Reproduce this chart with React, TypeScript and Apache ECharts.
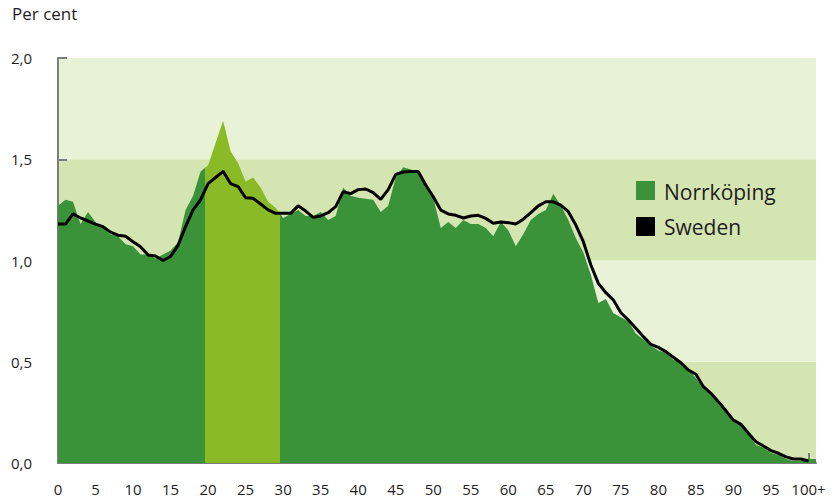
import React, { useEffect, useRef } from "react";
import * as echarts from "echarts";

const norrkoping: number[] = [
  1.27, 1.30, 1.29, 1.18, 1.24, 1.19, 1.16, 1.13, 1.12, 1.08,
  1.07, 1.03, 1.03, 1.01, 1.03, 1.05, 1.09, 1.25, 1.32, 1.44,
  1.47, 1.58, 1.69, 1.54, 1.48, 1.39, 1.41, 1.36, 1.29, 1.26,
  1.21, 1.23, 1.25, 1.22, 1.22, 1.24, 1.20, 1.22, 1.36, 1.32,
  1.31, 1.305, 1.30, 1.24, 1.27, 1.41, 1.46, 1.45, 1.44, 1.37,
  1.31, 1.16, 1.19, 1.16, 1.20, 1.18, 1.18, 1.16, 1.12, 1.19,
  1.15, 1.07, 1.13, 1.20, 1.23, 1.25, 1.33, 1.27, 1.20, 1.11,
  1.04, 0.93, 0.79, 0.81, 0.74, 0.72, 0.70, 0.64, 0.61, 0.58,
  0.555, 0.545, 0.51, 0.50, 0.46, 0.42, 0.37, 0.335, 0.295, 0.25,
  0.205, 0.19, 0.14, 0.09, 0.075, 0.05, 0.04, 0.02, 0.01, 0.01,
  0.02, 0.02,
];

const sweden: number[] = [
  1.18, 1.18, 1.23, 1.21, 1.195, 1.18, 1.167, 1.14, 1.125, 1.12,
  1.093, 1.068, 1.027, 1.022, 1.0, 1.02, 1.075, 1.167, 1.25, 1.30,
  1.38, 1.41, 1.44, 1.38, 1.365, 1.31, 1.307, 1.279, 1.25, 1.233,
  1.233, 1.233, 1.27, 1.244, 1.213, 1.22, 1.236, 1.266, 1.34, 1.33,
  1.35, 1.353, 1.335, 1.302, 1.35, 1.425, 1.437, 1.44, 1.44, 1.373,
  1.315, 1.249, 1.23, 1.223, 1.21, 1.22, 1.223, 1.208, 1.184, 1.19,
  1.187, 1.18, 1.204, 1.236, 1.27, 1.29, 1.29, 1.274, 1.241, 1.175,
  1.093, 0.978, 0.887, 0.841, 0.805, 0.742, 0.706, 0.665, 0.624, 0.586,
  0.571, 0.55, 0.522, 0.495, 0.459, 0.438, 0.377, 0.344, 0.303, 0.258,
  0.212, 0.191, 0.147, 0.105, 0.084, 0.061, 0.048, 0.03, 0.02, 0.02,
  0.01,
];

const xLabelValues: number[] = [0, 5, 10, 15, 20, 25, 30, 35, 40, 45, 50, 55, 60, 65, 70, 75, 80, 85, 90, 95, 100];
const xTickValues: number[] = xLabelValues.filter((v) => v > 0);
const highlightRange: number[] = [19.6, 29.6];
const seriesNames: string[] = ["Norrköping", "Sweden"];

const DARK_GREEN = "#3a9339";
const LIGHT_GREEN = "#8abb27";
const BAND_DARK = "#d5e5b1";
const BAND_LIGHT = "#e8f2d7";
const AXIS_GRAY = "#7d7d7d";
const TEXT = "#1e1e1e";
const FONT = "Open Sans";

export default function App() {
  const ref = useRef<HTMLDivElement>(null);
  useEffect(() => {
    if (!ref.current) return;
    const chart = echarts.init(ref.current, null, { renderer: "svg" });
    chart.setOption({
      animation: false,
      textStyle: { fontFamily: FONT },
      grid: { left: 58, right: 17, top: 58, bottom: 36, outerBoundsMode: "none" },
      xAxis: {
        type: "value",
        min: 0,
        max: 101,
        interval: 5,
        axisLine: { show: true, lineStyle: { color: AXIS_GRAY, width: 2 } },
        axisTick: {
          show: true,
          inside: true,
          length: 10,
          customValues: xTickValues,
          lineStyle: { color: AXIS_GRAY, width: 2 },
        },
        axisLabel: {
          customValues: xLabelValues,
          formatter: (v: number) => (v === 100 ? "100+" : String(v)),
          fontSize: 15,
          color: TEXT,
          fontFamily: FONT,
          margin: 18,
        },
        splitLine: { show: false },
      },
      yAxis: {
        type: "value",
        min: 0,
        max: 2,
        interval: 0.5,
        axisLine: { show: true, lineStyle: { color: AXIS_GRAY, width: 2 } },
        axisTick: { show: true, inside: true, length: 9, lineStyle: { color: AXIS_GRAY, width: 2 } },
        axisLabel: {
          formatter: (v: number) => v.toFixed(1).replace(".", ","),
          fontSize: 15,
          color: TEXT,
          fontFamily: FONT,
          margin: 26,
        },
        splitLine: { show: false },
        splitArea: { show: true, areaStyle: { color: [BAND_DARK, BAND_LIGHT] } },
      },
      visualMap: {
        type: "piecewise",
        show: false,
        dimension: 0,
        seriesIndex: 0,
        pieces: [
          { lt: highlightRange[0], color: DARK_GREEN },
          { gte: highlightRange[0], lte: highlightRange[1], color: LIGHT_GREEN },
          { gt: highlightRange[1], color: DARK_GREEN },
        ],
      },
      series: [
        {
          name: seriesNames[0],
          type: "line",
          data: norrkoping.map((v, i) => [i, v]),
          showSymbol: false,
          symbol: "none",
          lineStyle: { width: 0, opacity: 0 },
          areaStyle: { opacity: 1 },
          z: 2,
        },
        {
          name: seriesNames[1],
          type: "line",
          data: sweden.map((v, i) => [i, v]),
          showSymbol: false,
          symbol: "none",
          lineStyle: { width: 3, color: "#000" },
          itemStyle: { color: "#000" },
          z: 3,
        },
      ],
      graphic: [
        {
          type: "text",
          left: 12,
          top: 5,
          style: { text: "Per cent", fontSize: 17, fill: TEXT, fontFamily: FONT },
        },
        {
          type: "rect",
          shape: { x: 636, y: 181, width: 19, height: 19 },
          style: { fill: DARK_GREEN },
          z: 10,
        },
        {
          type: "text",
          x: 664,
          y: 192,
          style: { text: seriesNames[0], fontSize: 21, fill: TEXT, fontFamily: FONT, verticalAlign: "middle" },
          z: 10,
        },
        {
          type: "rect",
          shape: { x: 636, y: 217, width: 19, height: 19 },
          style: { fill: "#000" },
          z: 10,
        },
        {
          type: "text",
          x: 664,
          y: 227,
          style: { text: seriesNames[1], fontSize: 21, fill: TEXT, fontFamily: FONT, verticalAlign: "middle" },
          z: 10,
        },
      ],
    });
    return () => chart.dispose();
  }, []);
  return (
    <div
      ref={ref}
      style={{ position: "fixed", left: 0, top: 0, width: 833, height: 499, background: "#fff" }}
    />
  );
}
